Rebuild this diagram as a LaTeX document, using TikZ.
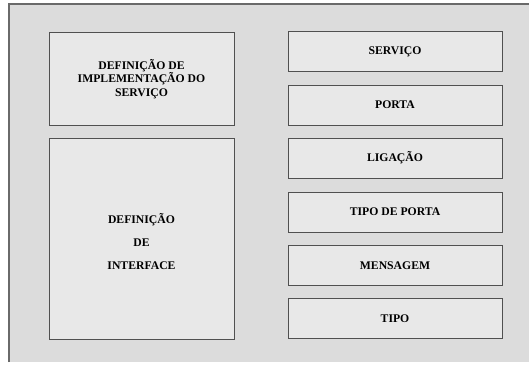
\documentclass[tikz,border=0pt]{standalone}
\usepackage{fontspec}
\setmainfont{Liberation Serif}
\begin{document}
\begin{tikzpicture}[x=1pt,y=-1pt,
  blk/.style={draw=boxline, line width=1pt, fill=boxcol, inner sep=0pt, font=\fontsize{11.7}{13.5}\selectfont\bfseries, align=center},
]
\definecolor{bgcol}{HTML}{DCDCDC}
\definecolor{boxcol}{HTML}{E8E8E8}
\definecolor{boxline}{HTML}{505050}
\definecolor{frameline}{HTML}{6A6A6A}
\useasboundingbox (0,0) rectangle (529,365);
\fill[white] (0,0) rectangle (529,365);
\fill[bgcol] (9,4) rectangle (529,362);
\draw[frameline, line width=1.4pt] (9,362) -- (9,4) -- (529,4);
% left column
\node[blk, minimum width=185pt, minimum height=93pt] (impl) at (141.5,79) {DEFINIÇÃO DE\\IMPLEMENTAÇÃO DO\\SERVIÇO};
\node[blk, minimum width=185pt, minimum height=201pt] (intf) at (141.5,238.5) {};
\node[font=\fontsize{11.7}{23}\selectfont\bfseries, align=center] (intftxt) at (141.5,242) {DEFINIÇÃO\\DE\\INTERFACE};
% right column
\node[blk, minimum width=214pt, minimum height=40pt] (serv) at (395,51.5) {SERVIÇO};
\node[blk, minimum width=214pt, minimum height=40pt] (porta) at (395,105) {PORTA};
\node[blk, minimum width=214pt, minimum height=40pt] (lig) at (395,158) {LIGAÇÃO};
\node[blk, minimum width=214pt, minimum height=40pt] (tipop) at (395,212) {TIPO DE PORTA};
\node[blk, minimum width=214pt, minimum height=40pt] (msg) at (395,265.5) {MENSAGEM};
\node[blk, minimum width=214pt, minimum height=40pt] (tipo) at (395,318.5) {TIPO};
\end{tikzpicture}
\end{document}
